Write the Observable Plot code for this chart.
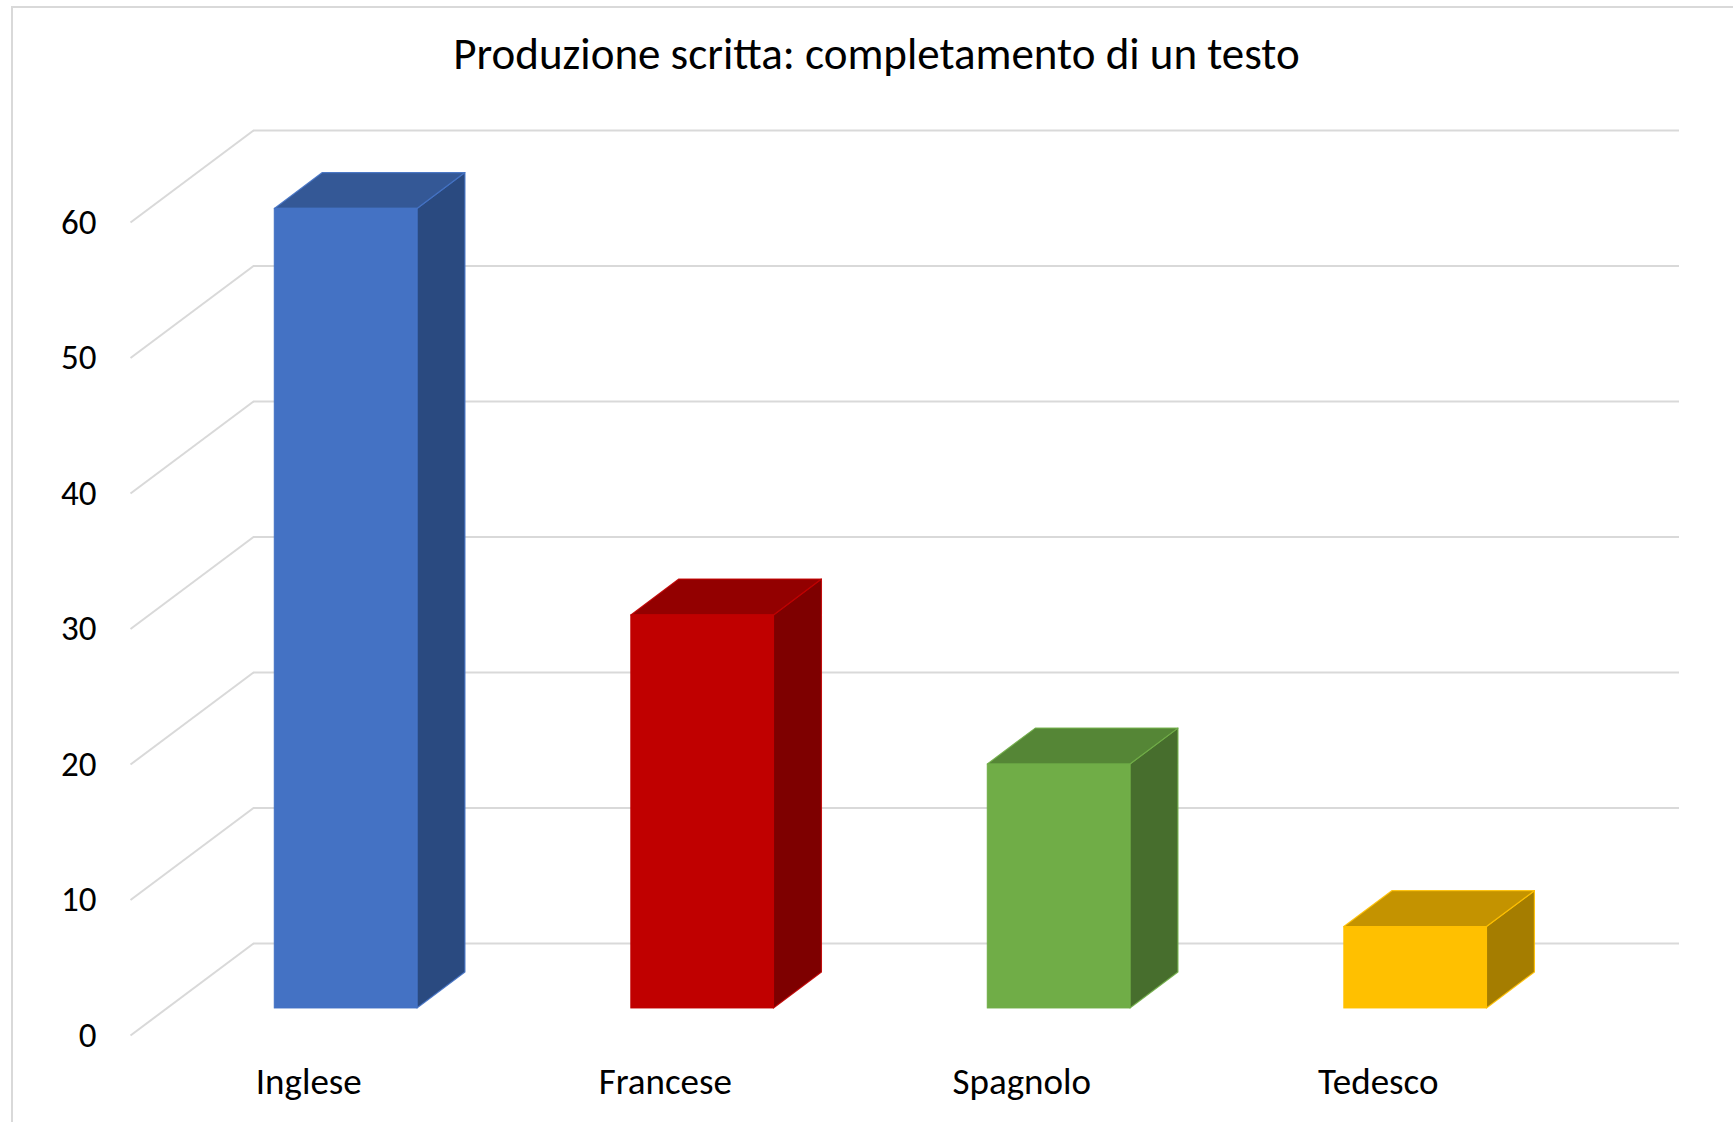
<!DOCTYPE html>
<html>
<head>
<meta charset="utf-8">
<script src="https://cdn.jsdelivr.net/npm/d3@7"></script>
<script src="https://cdn.jsdelivr.net/npm/@observablehq/plot@0.6"></script>
<style>
  html, body { margin: 0; padding: 0; background: #fff; overflow: hidden; width: 1733px; height: 1122px; }
  #frame { position: absolute; left: 11px; top: 6px; width: 1800px; height: 1200px; border: 2px solid #D9D9D9; box-sizing: border-box; }
  #title { position: absolute; left: 0; top: 31px; width: 1753px; text-align: center; font-family: Carlito, Calibri, "Liberation Sans", Arial, sans-serif; font-size: 45px; line-height: 45px; color: #000; white-space: nowrap; }
  #chart { position: absolute; left: 0; top: 100px; }
</style>
</head>
<body>
<div id="frame"></div>
<div id="title">Produzione scritta: completamento di un testo</div>
<div id="chart"></div>
<script>
// ---- data ----
const categories = ["Inglese", "Francese", "Spagnolo", "Tedesco"];
const values = [59, 29, 18, 6];
const yTicks = [0, 10, 20, 30, 40, 50, 60];

// ---- styles ----
const frontColors = ["#4472C4", "#C00000", "#70AD47", "#FFC000"];
const topColors   = ["#345896", "#930000", "#558636", "#C49300"];
const sideColors  = ["#2A4A80", "#7E0000", "#476E2D", "#A57D00"];
const gridColor = "#D9D9D9";

// ---- layout ----
const W = 1733, H = 1022, ML = 130, MR = 177, MT = 122, MB = 87;
const pxX = (W - ML - MR) / categories.length;
const pxY = (H - MT - MB) / 60;
const DEPTH_DX = 123, DEPTH_DY = 92;          // pixel offset of the back wall
const dxu = DEPTH_DX / pxX, dyu = DEPTH_DY / pxY; // same offset in data units
const FRONT = 0.30, BACK = 0.69, HW = 0.2;

const bars = categories.map((c, i) => ({cat: c, i, v: values[i]}));
const P = (x, y, d) => ({x: x + d * dxu, y: y + d * dyu});

const faceMarks = bars.flatMap(b => {
  const side = [P(b.i + HW, 0, FRONT), P(b.i + HW, b.v, FRONT), P(b.i + HW, b.v, BACK), P(b.i + HW, 0, BACK)];
  const top = [P(b.i - HW, b.v, FRONT), P(b.i + HW, b.v, FRONT), P(b.i + HW, b.v, BACK), P(b.i - HW, b.v, BACK)];
  const front = [P(b.i - HW, 0, FRONT), P(b.i + HW, 0, FRONT), P(b.i + HW, b.v, FRONT), P(b.i - HW, b.v, FRONT)];
  const opts = (fill) => ({x: "x", y: "y", fill, stroke: frontColors[b.i], strokeWidth: 1.2, strokeOpacity: 0.9, curve: "linear-closed"});
  return [
    Plot.line(side, opts(sideColors[b.i])),
    Plot.line(top, opts(topColors[b.i])),
    Plot.line(front, opts(frontColors[b.i]))
  ];
});

const chart = Plot.plot({
  width: W, height: H,
  marginLeft: ML, marginRight: MR, marginTop: MT, marginBottom: MB,
  x: {type: "linear", domain: [-0.5, categories.length - 0.5]},
  y: {type: "linear", domain: [0, 60]},
  style: {background: "transparent", fontFamily: "Carlito, Calibri, 'Liberation Sans', Arial, sans-serif", color: "#000"},
  marks: [
    Plot.ruleY(yTicks, {y: d => d, dx: DEPTH_DX, dy: -DEPTH_DY, stroke: gridColor, strokeWidth: 2}),
    Plot.link(yTicks, {x1: () => -0.5, y1: d => d, x2: () => -0.5 + dxu, y2: d => d + dyu, stroke: gridColor, strokeWidth: 2}),
    ...faceMarks,
    Plot.axisY(yTicks, {tickSize: 0, tickPadding: 34, fontSize: 35, label: null}),
    Plot.axisX(categories.map((c, i) => i), {tickSize: 0, tickPadding: 32, fontSize: 37, label: null, tickFormat: i => categories[i]})
  ]
});
document.getElementById("chart").appendChild(chart);
</script>
</body>
</html>
